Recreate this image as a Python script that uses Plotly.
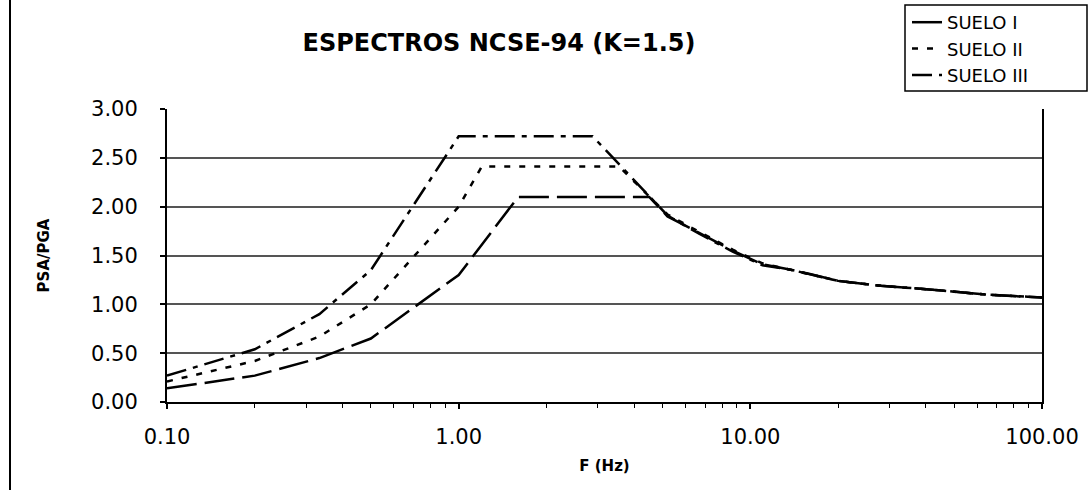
import plotly.graph_objects as go

# ---- data ----
freq_suelo1 = [0.1, 0.2, 0.333, 0.5, 1.0, 1.6, 4.5, 5.2, 6.7, 8.7, 11, 13.5, 16, 20, 28, 42, 64, 100]
psa_suelo1 = [0.14, 0.27, 0.45, 0.65, 1.30, 2.10, 2.10, 1.90, 1.73, 1.55, 1.41, 1.36, 1.31, 1.24, 1.19, 1.15, 1.10, 1.07]

freq_suelo2 = [0.1, 0.2, 0.333, 0.5, 1.0, 1.2, 3.55, 5.2, 6.7, 8.7, 11, 13.5, 16, 20, 28, 42, 64, 100]
psa_suelo2 = [0.21, 0.42, 0.67, 1.00, 2.00, 2.41, 2.41, 1.92, 1.74, 1.56, 1.42, 1.36, 1.31, 1.24, 1.19, 1.15, 1.10, 1.07]

freq_suelo3 = [0.1, 0.2, 0.333, 0.5, 1.0, 2.88, 5.2, 6.7, 8.7, 11, 13.5, 16, 20, 28, 42, 64, 100]
psa_suelo3 = [0.27, 0.54, 0.90, 1.35, 2.72, 2.72, 1.91, 1.72, 1.54, 1.40, 1.36, 1.31, 1.24, 1.19, 1.15, 1.10, 1.07]

series_names = ["SUELO I", "SUELO II", "SUELO III"]
x_tickvals = [0.1, 1, 10, 100]
x_ticktext = ["0.10", "1.00", "10.00", "100.00"]
y_tickvals = [0, 0.5, 1.0, 1.5, 2.0, 2.5, 3.0]
y_ticktext = ["0.00", "0.50", "1.00", "1.50", "2.00", "2.50", "3.00"]
minor_x = [m * 10 ** e for e in (-1, 0, 1) for m in range(2, 10)]

dashes = ["30px,8px", "6px,9px", "20px,7px,5px,7px"]

fig = go.Figure()
for name, xs, ys, d in zip(series_names,
                           [freq_suelo1, freq_suelo2, freq_suelo3],
                           [psa_suelo1, psa_suelo2, psa_suelo3],
                           dashes):
    fig.add_trace(go.Scatter(x=xs, y=ys, mode="lines", name=name,
                             line=dict(color="black", width=2.5, dash=d)))

W, H = 1088, 490
L, R, T, B = 167, 46, 109, 88
pw, ph = W - L - R, H - T - B

def px_x(p):
    return (p - L) / pw

def px_y(p):
    return (H - B - p) / ph

fig.update_layout(
    width=W, height=H,
    margin=dict(l=L, r=R, t=T, b=B, autoexpand=False),
    paper_bgcolor="white", plot_bgcolor="white",
    font=dict(family="DejaVu Sans", color="black"),
    title=dict(text="<b>ESPECTROS NCSE-94 (K=1.5)</b>", x=499 / W, xanchor="center",
               y=1 - 43 / H, yanchor="middle", xref="container", yref="container",
               font=dict(family="DejaVu Sans", size=24, color="black")),
    showlegend=True,
    legend=dict(x=907 / W, y=1 - 4 / H, xanchor="left", yanchor="top",
                xref="container", yref="container",
                bgcolor="rgba(0,0,0,0)", borderwidth=0,
                font=dict(family="DejaVu Sans", size=18, color="black"),
                traceorder="normal", tracegroupgap=0),
    xaxis=dict(type="log", range=[-1, 2], tickvals=x_tickvals, ticktext=x_ticktext,
               showgrid=False, zeroline=False, automargin=False,
               showline=True, linecolor="black", linewidth=2,
               ticks="outside", ticklen=5, tickcolor="black", tickwidth=1.5,
               ticklabelstandoff=10,
               minor=dict(tickvals=minor_x, ticks="outside", ticklen=4,
                          tickcolor="black", tickwidth=1, showgrid=False),
               tickfont=dict(family="DejaVu Sans", size=21, color="black"),
               title=dict(text="<b>F (Hz)</b>", standoff=12,
                          font=dict(family="DejaVu Sans", size=15, color="black"))),
    yaxis=dict(range=[0, 3], tickvals=y_tickvals, ticktext=y_ticktext,
               showgrid=True, gridcolor="#555555", gridwidth=1.5, zeroline=False,
               automargin=False,
               showline=True, linecolor="black", linewidth=2, mirror=True,
               ticks="outside", ticklen=5, tickcolor="black", tickwidth=1.5,
               ticklabelstandoff=18,
               tickfont=dict(family="DejaVu Sans", size=21, color="black"),
               title=dict(text="<b>PSA/PGA</b>", standoff=38,
                          font=dict(family="DejaVu Sans", size=15, color="black"))),
    shapes=[
        # legend frame
        dict(type="rect", xref="paper", yref="paper",
             x0=px_x(905), x1=px_x(1087), y0=px_y(91), y1=px_y(5),
             line=dict(color="black", width=1.5), fillcolor="rgba(0,0,0,0)"),
        # page border on the left
        dict(type="line", xref="paper", yref="paper",
             x0=px_x(10), x1=px_x(10), y0=px_y(490), y1=px_y(0),
             line=dict(color="black", width=2)),
    ],
)

fig.write_html("out.html", config={"displayModeBar": False},
               post_script="document.body.style.margin='0';document.body.style.overflow='hidden';")
